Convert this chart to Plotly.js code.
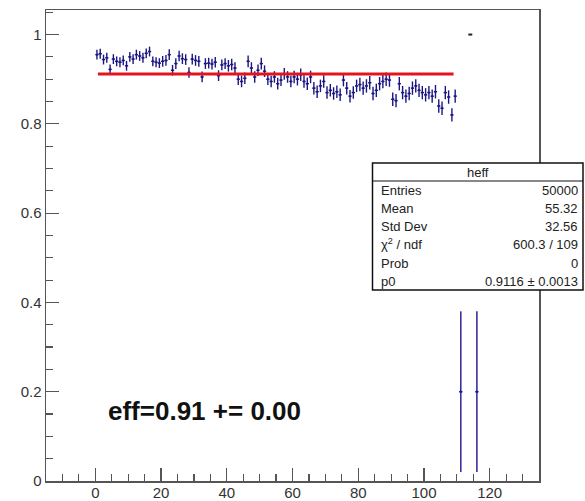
<!DOCTYPE html>
<html>
<head>
<meta charset="utf-8">
<script src="https://cdn.plot.ly/plotly-3.0.1.min.js"></script>
<style>
html,body{margin:0;padding:0;background:#fff;}
#chart{width:585px;height:501px;}
</style>
</head>
<body>
<div id="chart"></div>
<script>
// Histogram definition (heff): 110 bins from 0 to 110
const histXMin = 0;
const histBinWidth = 1;
// Efficiency per bin
const effValues = [
  0.955, 0.957, 0.944, 0.948, 0.922, 0.945, 0.940, 0.938, 0.942, 0.930,
  0.950, 0.945, 0.955, 0.952, 0.948, 0.958, 0.962, 0.940, 0.938, 0.936,
  0.940, 0.942, 0.955, 0.920, 0.935, 0.952, 0.946, 0.944, 0.915, 0.945,
  0.942, 0.940, 0.905, 0.935, 0.936, 0.934, 0.938, 0.908, 0.932, 0.935,
  0.930, 0.933, 0.925, 0.900, 0.895, 0.902, 0.940, 0.925, 0.905, 0.920,
  0.935, 0.918, 0.900, 0.895, 0.905, 0.890, 0.898, 0.912, 0.905, 0.895,
  0.905, 0.900, 0.910, 0.895, 0.890, 0.905, 0.880, 0.872, 0.885, 0.895,
  0.870, 0.875, 0.868, 0.872, 0.865, 0.898, 0.880, 0.862, 0.870, 0.885,
  0.888, 0.880, 0.885, 0.892, 0.868, 0.875, 0.890, 0.895, 0.900, 0.898,
  0.855, 0.852, 0.890, 0.870, 0.862, 0.868, 0.880, 0.885, 0.875, 0.870,
  0.865, 0.870, 0.862, 0.872, 0.840, 0.835, 0.870, 0.860, 0.820, 0.862
];
// Statistical error per bin
const effErrors = [
  0.011, 0.011, 0.011, 0.011, 0.011, 0.011, 0.011, 0.011, 0.011, 0.011,
  0.011, 0.011, 0.011, 0.011, 0.011, 0.011, 0.011, 0.011, 0.011, 0.011,
  0.012, 0.012, 0.012, 0.012, 0.012, 0.012, 0.012, 0.012, 0.012, 0.012,
  0.012, 0.012, 0.012, 0.012, 0.012, 0.012, 0.012, 0.012, 0.012, 0.012,
  0.013, 0.013, 0.013, 0.013, 0.013, 0.013, 0.013, 0.013, 0.013, 0.013,
  0.013, 0.013, 0.013, 0.013, 0.013, 0.013, 0.013, 0.013, 0.013, 0.013,
  0.014, 0.014, 0.014, 0.014, 0.014, 0.014, 0.014, 0.014, 0.014, 0.014,
  0.014, 0.014, 0.014, 0.014, 0.014, 0.014, 0.014, 0.014, 0.014, 0.014,
  0.015, 0.015, 0.015, 0.015, 0.015, 0.015, 0.015, 0.015, 0.015, 0.015,
  0.015, 0.015, 0.015, 0.015, 0.015, 0.015, 0.015, 0.015, 0.015, 0.015,
  0.015, 0.015, 0.015, 0.015, 0.015, 0.015, 0.015, 0.015, 0.015, 0.015
];
// Overflow-region bins
const extraX = [111.2, 116.1];
const extraY = [0.2, 0.2];
const extraErr = [0.18, 0.18];
const dashX = [114.1];
const dashY = [1.0];

// Fit result (pol0)
const fitP0 = 0.9116;
const fitRange = [0.8, 109];

// Stats box
const statsTitle = "heff";
const statsLabels = ["Entries", "Mean", "Std Dev", "χ<sup>2</sup> / ndf", "Prob", "p0"];
const statsValues = ["50000", "55.32", "32.56", "600.3 / 109", "0", "0.9116 ± 0.0013"];
const effText = "eff=0.91 += 0.00";

// Axis ticks
const xTickVals = [0, 20, 40, 60, 80, 100, 120];
const yTickVals = [0, 0.2, 0.4, 0.6, 0.8, 1];
const yTickText = ["0", "0.2", "0.4", "0.6", "0.8", "1"];

const binCenters = effValues.map((_, i) => histXMin + (i + 0.5) * histBinWidth);
const halfWidths = effValues.map(() => histBinWidth / 2);

const markColor = '#1b1780';
const traces = [
  {
    x: binCenters, y: effValues, type: 'scatter', mode: 'markers',
    marker: {size: 2, color: markColor},
    error_y: {type: 'data', array: effErrors, visible: true, color: markColor, thickness: 1.4, width: 0},
    error_x: {type: 'data', array: halfWidths, visible: true, color: markColor, thickness: 1.4, width: 0},
    hoverinfo: 'skip', showlegend: false
  },
  {
    x: extraX, y: extraY, type: 'scatter', mode: 'markers',
    marker: {size: 2, color: markColor},
    error_y: {type: 'data', array: extraErr, visible: true, color: '#3a2fa0', thickness: 1.6, width: 0},
    error_x: {type: 'data', array: extraX.map(() => histBinWidth / 2), visible: true, color: markColor, thickness: 1.6, width: 0},
    hoverinfo: 'skip', showlegend: false
  },
  {
    x: dashX, y: dashY, type: 'scatter', mode: 'markers',
    marker: {size: 1, color: '#222222'},
    error_x: {type: 'data', array: dashX.map(() => 0.6), visible: true, color: '#222222', thickness: 2, width: 0},
    hoverinfo: 'skip', showlegend: false
  },
  {
    x: fitRange, y: fitRange.map(() => fitP0), type: 'scatter', mode: 'lines',
    line: {color: '#e3141e', width: 3},
    hoverinfo: 'skip', showlegend: false
  }
];

const axisCommon = {
  showgrid: false, zeroline: false, showline: true, mirror: true,
  linecolor: '#555555', linewidth: 1.5,
  ticks: 'inside', tickcolor: '#555555', tickwidth: 1.2, ticklen: 13,
  tickfont: {family: 'Liberation Sans, Arial, sans-serif', size: 15, color: '#333333'}
};

const pl = {l: 46, r: 539, t: 10, b: 481};
const px = v => (v - pl.l) / (pl.r - pl.l);
const py = v => (pl.b - v) / (pl.b - pl.t);

const statsFont = {family: 'Liberation Sans, Arial, sans-serif', size: 13, color: '#222222'};
const rowY = [190, 208.3, 226.7, 244.3, 263, 281];
const annotations = [
  {xref: 'paper', yref: 'paper', x: px(478), y: py(172.5), text: statsTitle, showarrow: false,
   xanchor: 'center', yanchor: 'middle', font: statsFont},
  {xref: 'paper', yref: 'paper', x: px(106), y: py(411), text: '<b>' + effText + '</b>', showarrow: false,
   xanchor: 'left', yanchor: 'middle', font: {family: 'Liberation Sans, Arial, sans-serif', size: 26, color: '#111111'}}
];
statsLabels.forEach((lab, i) => {
  annotations.push({xref: 'paper', yref: 'paper', x: px(379), y: py(rowY[i]), text: lab, showarrow: false,
    xanchor: 'left', yanchor: 'middle', font: statsFont});
  annotations.push({xref: 'paper', yref: 'paper', x: px(580), y: py(rowY[i]), text: statsValues[i], showarrow: false,
    xanchor: 'right', yanchor: 'middle', font: statsFont});
});

const layout = {
  width: 585, height: 501,
  margin: {l: pl.l, r: 585 - pl.r, t: pl.t, b: 501 - pl.b, pad: 0},
  paper_bgcolor: '#ffffff', plot_bgcolor: '#ffffff',
  xaxis: Object.assign({}, axisCommon, {
    range: [-15, 135], tickvals: xTickVals, ticktext: xTickVals.map(String),
    ticklabelstandoff: -3,
    minor: {dtick: 5, tick0: 0, ticks: 'inside', ticklen: 7, tickcolor: '#555555', tickwidth: 1.2}
  }),
  yaxis: Object.assign({}, axisCommon, {
    range: [0, 1.055], tickvals: yTickVals, ticktext: yTickText,
    minor: {dtick: 0.05, tick0: 0, ticks: 'inside', ticklen: 7, tickcolor: '#555555', tickwidth: 1.2}
  }),
  shapes: [
    {type: 'rect', xref: 'paper', yref: 'paper', x0: px(372.5), x1: px(583), y0: py(290), y1: py(163),
     line: {color: '#111111', width: 1.5}, fillcolor: '#ffffff', layer: 'above'},
    {type: 'line', xref: 'paper', yref: 'paper', x0: px(372.5), x1: px(583), y0: py(181), y1: py(181),
     line: {color: '#111111', width: 1.2}, layer: 'above'}
  ],
  annotations: annotations,
  showlegend: false
};

Plotly.newPlot('chart', traces, layout, {staticPlot: true, displayModeBar: false});
</script>
</body>
</html>
